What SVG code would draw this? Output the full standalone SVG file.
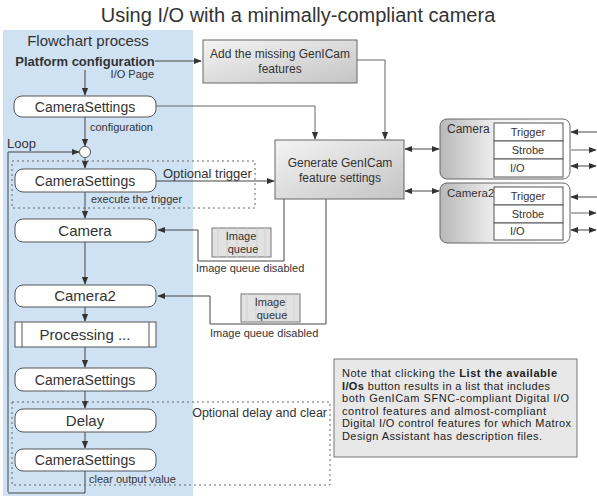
<svg xmlns="http://www.w3.org/2000/svg" width="597" height="496" viewBox="0 0 597 496">
<defs>
<linearGradient id="gbox" x1="0" y1="0" x2="1" y2="1"><stop offset="0" stop-color="#f4f4f4"/><stop offset="1" stop-color="#c4c4c4"/></linearGradient>
<linearGradient id="gcam" x1="0" y1="0" x2="1" y2="0"><stop offset="0" stop-color="#b8b8b8"/><stop offset="0.45" stop-color="#f2f2f2"/><stop offset="1" stop-color="#ffffff"/></linearGradient>
<marker id="ah" viewBox="0 0 10 10" refX="9" refY="5" markerWidth="8" markerHeight="8" markerUnits="userSpaceOnUse" orient="auto-start-reverse"><path d="M0,1 L10,5 L0,9 z" fill="#333"/></marker>
</defs>
<style>
text{font-family:"Liberation Sans",Arial,sans-serif;fill:#333}
.node{fill:#fff;stroke:#555;stroke-width:1}
.ln{fill:none;stroke:#444;stroke-width:1}
.lg{fill:none;stroke:#666;stroke-width:1}
.dot{fill:none;stroke:#666;stroke-width:1;stroke-dasharray:2,3}
.t14{font-size:14px;text-anchor:middle}
.t15{font-size:15px;text-anchor:middle}
.sm{font-size:11px}
.box{stroke:#666;stroke-width:1}
.iq{fill:#e2e2e2;stroke:#777;stroke-width:1}
.cell{fill:#fff;stroke:#555;stroke-width:1}
.ct{font-size:11px;text-anchor:middle}
.nt{font-size:11px;fill:#222}
</style>
<rect x="3" y="30" width="190" height="466" fill="#cfe2f3"/>
<text x="298" y="22" font-size="20" text-anchor="middle">Using I/O with a minimally-compliant camera</text>
<text x="88" y="46" font-size="15" text-anchor="middle">Flowchart process</text>

<g id="connectors">
<path class="ln" d="M155,61 H201" marker-end="url(#ah)"/>
<path class="ln" d="M85,70 V95" marker-end="url(#ah)"/>
<path class="ln" d="M85,117 V146" marker-end="url(#ah)"/>
<path class="lg" d="M156,106 H315 V139" marker-end="url(#ah)"/>
<path class="lg" d="M357,60 H385 V139" marker-end="url(#ah)"/>
<path class="ln" d="M8,492 V152 H79" marker-end="url(#ah)"/>
<path class="ln" d="M85,158 V168" marker-end="url(#ah)"/>
<path class="ln" d="M156,181 H274" marker-end="url(#ah)"/>
<path class="ln" d="M85,192 V218" marker-end="url(#ah)"/>
<path class="ln" d="M284,199 V261 H198 V230 H158" marker-end="url(#ah)"/>
<path class="ln" d="M85,242 V284" marker-end="url(#ah)"/>
<path class="ln" d="M326,199 V324 H210 V296 H158" marker-end="url(#ah)"/>
<path class="ln" d="M85,307 V321" marker-end="url(#ah)"/>
<path class="ln" d="M85,347 V367" marker-end="url(#ah)"/>
<path class="ln" d="M85,391 V408" marker-end="url(#ah)"/>
<path class="ln" d="M85,432 V448" marker-end="url(#ah)"/>
<path class="ln" d="M85,471 V493 H8"/>
<path class="ln" d="M405,149 H439" marker-start="url(#ah)" marker-end="url(#ah)"/>
<path class="ln" d="M405,191 H439" marker-start="url(#ah)" marker-end="url(#ah)"/>
<path class="ln" d="M597,132 H571" marker-end="url(#ah)"/>
<path class="lg" d="M571,150 H596" marker-end="url(#ah)"/>
<path class="ln" d="M571,166 H596" marker-start="url(#ah)" marker-end="url(#ah)"/>
<path class="ln" d="M597,197 H571" marker-end="url(#ah)"/>
<path class="lg" d="M571,213 H596" marker-end="url(#ah)"/>
<path class="ln" d="M571,230 H596" marker-start="url(#ah)" marker-end="url(#ah)"/>
</g>

<rect class="dot" x="12" y="161" width="243" height="47"/>
<rect class="dot" x="12" y="402" width="318" height="83"/>

<g id="platform">
<text x="85" y="66" font-size="13" font-weight="bold" text-anchor="middle" fill="#222">Platform configuration</text>
<text x="154" y="78" class="sm" text-anchor="end">I/O Page</text>
</g>

<g id="addmissing">
<rect x="203" y="40" width="154" height="43" fill="url(#gbox)" class="box"/>
<text x="280" y="58" font-size="12" text-anchor="middle">Add the missing GenICam</text>
<text x="280" y="73" font-size="12" text-anchor="middle">features</text>
</g>

<g id="cs1">
<rect class="node" x="14" y="96" width="142" height="21" rx="8"/>
<text class="t14" x="85" y="111.5">CameraSettings</text>
<text class="sm" x="90" y="131">configuration</text>
</g>

<g id="loop">
<text x="7" y="148" font-size="13">Loop</text>
<circle cx="85" cy="152" r="5.5" fill="#fff" stroke="#555"/>
</g>

<g id="cs2">
<rect class="node" x="15" y="169" width="141" height="23" rx="8"/>
<text class="t14" x="85" y="185.5">CameraSettings</text>
<text x="163" y="178" font-size="13">Optional trigger</text>
<text class="sm" x="91" y="203">execute the trigger</text>
</g>

<g id="generate">
<rect x="275" y="140" width="129" height="59" fill="url(#gbox)" class="box"/>
<text x="340" y="167" font-size="12" text-anchor="middle">Generate GenICam</text>
<text x="340" y="182" font-size="12" text-anchor="middle">feature settings</text>
</g>

<g id="camera">
<rect class="node" x="15" y="219" width="141" height="23" rx="8"/>
<text class="t15" x="85" y="236">Camera</text>
</g>

<g id="iq1">
<rect class="iq" x="212" y="228" width="59" height="29"/>
<path d="M218,228 V257 M227,228 V257 M237,228 V257 M247,228 V257 M257,228 V257 M265,228 V257" stroke="#cfcfcf" stroke-width="1"/>
<text class="ct" x="241" y="240" font-size="12">Image</text>
<text class="ct" x="243" y="253" font-size="12">queue</text>
<text class="sm" x="196" y="272">Image queue disabled</text>
</g>

<g id="camera2">
<rect class="node" x="15" y="285" width="141" height="22" rx="8"/>
<text class="t15" x="85" y="301">Camera2</text>
</g>

<g id="iq2">
<rect class="iq" x="241" y="294" width="59" height="28"/>
<path d="M247,294 V322 M256,294 V322 M266,294 V322 M276,294 V322 M286,294 V322 M294,294 V322" stroke="#cfcfcf" stroke-width="1"/>
<text class="ct" x="270" y="306" font-size="12">Image</text>
<text class="ct" x="272" y="319" font-size="12">queue</text>
<text class="sm" x="210" y="337">Image queue disabled</text>
</g>

<g id="processing">
<rect class="node" x="15" y="322" width="141" height="25"/>
<path d="M22,322 V347 M149,322 V347" stroke="#555"/>
<text x="85" y="340" font-size="15" text-anchor="middle">Processing ...</text>
</g>

<g id="cs3">
<rect class="node" x="15" y="368" width="141" height="23" rx="8"/>
<text class="t14" x="85" y="384.5">CameraSettings</text>
</g>

<g id="delay">
<text x="327" y="417" font-size="12.5" text-anchor="end">Optional delay and clear</text>
<rect class="node" x="15" y="409" width="141" height="23" rx="8"/>
<text class="t15" x="85" y="426">Delay</text>
</g>

<g id="cs4">
<rect class="node" x="15" y="449" width="141" height="22" rx="8"/>
<text class="t14" x="85" y="465">CameraSettings</text>
<text class="sm" x="89" y="483">clear output value</text>
</g>

<g id="cam1">
<rect x="440" y="119" width="130" height="60" rx="7" fill="url(#gcam)" stroke="#666"/>
<text x="447" y="133" font-size="12">Camera</text>
<rect class="cell" x="494" y="123" width="69" height="18"/>
<rect class="cell" x="494" y="141" width="69" height="18"/>
<rect class="cell" x="494" y="159" width="69" height="18"/>
<text class="ct" x="528" y="136">Trigger</text>
<text class="ct" x="528" y="154">Strobe</text>
<text x="510" y="172" font-size="11">I/O</text>
</g>

<g id="cam2">
<rect x="440" y="183" width="130" height="60" rx="7" fill="url(#gcam)" stroke="#666"/>
<text x="447" y="197" font-size="11.5">Camera2</text>
<rect class="cell" x="494" y="187" width="69" height="18"/>
<rect class="cell" x="494" y="205" width="69" height="18"/>
<rect class="cell" x="494" y="223" width="69" height="17"/>
<text class="ct" x="528" y="200">Trigger</text>
<text class="ct" x="528" y="218">Strobe</text>
<text x="510" y="235" font-size="11">I/O</text>
</g>

<g id="note">
<rect x="334" y="359" width="243" height="98" fill="#e8e8e8" stroke="#777"/>
<text class="nt" x="342" y="377" textLength="215" lengthAdjust="spacing">Note that clicking the <tspan font-weight="bold">List the available</tspan></text>
<text class="nt" x="342" y="389.5" textLength="208" lengthAdjust="spacing"><tspan font-weight="bold">I/Os</tspan> button results in a list that includes</text>
<text class="nt" x="342" y="402" textLength="227" lengthAdjust="spacing">both GenICam SFNC-compliant Digital I/O</text>
<text class="nt" x="342" y="414.5" textLength="204" lengthAdjust="spacing">control features and almost-compliant</text>
<text class="nt" x="342" y="427" textLength="229" lengthAdjust="spacing">Digital I/O control features for which Matrox</text>
<text class="nt" x="342" y="439.5" textLength="200" lengthAdjust="spacing">Design Assistant has description files.</text>
</g>
</svg>
